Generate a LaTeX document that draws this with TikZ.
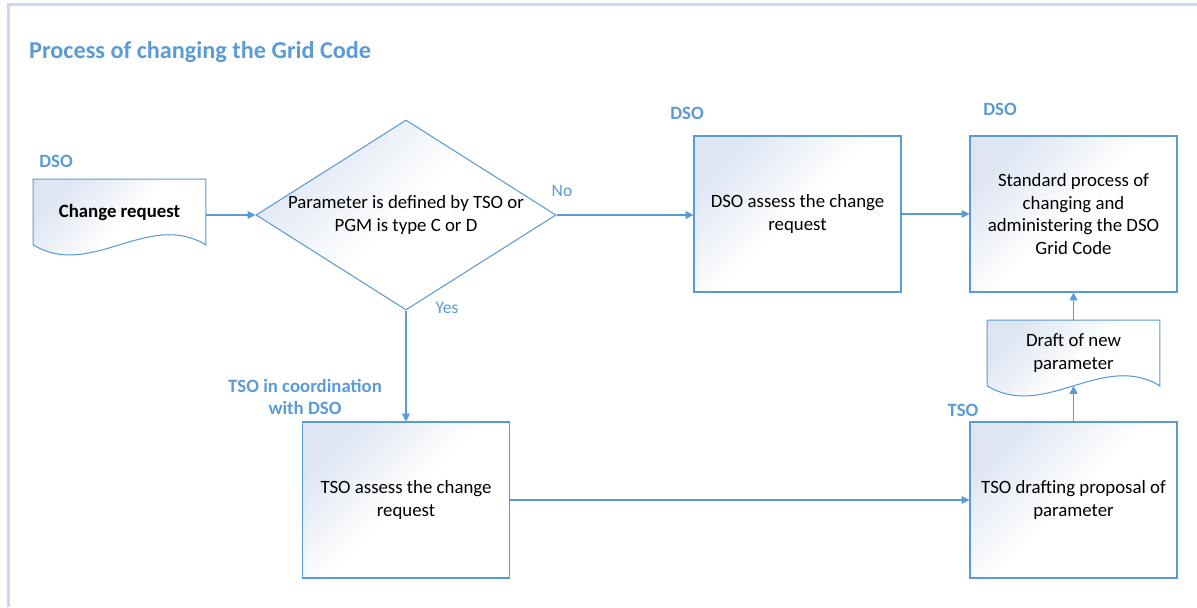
\documentclass[tikz,border=0pt]{standalone}
\usepackage{fontspec}
\setmainfont{Carlito}
\usetikzlibrary{shapes.geometric, arrows.meta, positioning, backgrounds}

\definecolor{gridblue}{RGB}{91,155,213}
\definecolor{framecol}{RGB}{198,217,240}
\definecolor{boxtint}{RGB}{222,230,243}

% contorno a "documento" (bordo inferiore ondulato) attorno a un nodo
\newcommand{\docoutline}[1]{%
    \begin{scope}[on background layer]
        \draw[draw=gridblue, line width=0.6pt, top color=boxtint, bottom color=white, middle color=white, shading angle=45]
            (#1.south west) -- (#1.north west) -- (#1.north east) -- (#1.south east)
            .. controls ([xshift=-1.15cm, yshift=0.7cm]#1.south east) and ([xshift=1.15cm, yshift=-0.7cm]#1.south west) .. (#1.south west)
            -- cycle;
    \end{scope}}

\begin{document}
\begin{tikzpicture}[
    txt/.style={font=\fontsize{10.7}{13}\selectfont, align=center},
    role/.style={font=\fontsize{10.7}{13}\selectfont\bfseries, text=gridblue, align=center},
    answer/.style={font=\fontsize{10}{12}\selectfont, text=gridblue},
    procbox/.style={txt, draw=gridblue, line width=0.6pt, top color=boxtint, bottom color=white, middle color=white, shading angle=45,
        minimum width=4.14cm, minimum height=3.12cm, inner sep=2pt},
    decision/.style={diamond, draw=gridblue, line width=0.6pt, top color=boxtint, bottom color=white, middle color=white, shading angle=45,
        minimum width=6cm, minimum height=3.8cm, inner sep=0pt},
    docbox/.style={txt, minimum width=3.44cm, minimum height=1.3cm, inner sep=0pt},
    flow/.style={draw=gridblue, line width=0.6pt, -{Triangle[length=4.5pt, width=4.5pt]}},
]
    \useasboundingbox (0,0) rectangle (23.94,12.14);

    % =========================================================
    % CORNICE E TITOLO
    % =========================================================
    \draw[framecol, line width=1.7pt] (0.17,0) -- (0.17,12.054) -- (23.94,12.054);
    \node[anchor=west, font=\fontsize{13.8}{16}\selectfont\bfseries, text=gridblue] (title) at (0.46,11.09) {Process of changing the Grid Code};

    % =========================================================
    % RICHIESTA E DECISIONE
    % =========================================================
    \node[role] (roledso) at (1.12,8.92) {DSO};
    \node[docbox] (request) at (2.39,7.9) {\textbf{Change request}};
    \docoutline{request}

    \node[decision] (check) at (8.12,7.84) {};
    \node[txt] (checktext) at (check) {Parameter is defined by TSO or\\PGM is type C or D};

    \node[answer] (no) at (11.24,8.32) {No};
    \node[answer] (yes) at (8.94,5.98) {Yes};

    % =========================================================
    % RAMO DSO (in alto)
    % =========================================================
    \node[role] (roledsoassess) at (13.74,9.88) {DSO};
    \node[procbox] (dsoassess) at (15.95,7.86) {DSO assess the change\\request};

    \node[role] (rolestandard) at (20.0,9.96) {DSO};
    \node[procbox] (standard) at (21.47,7.86) {Standard process of\\changing and\\administering the DSO\\Grid Code};

    \node[docbox] (draft) at (21.47,5.08) {Draft of new\\parameter};
    \docoutline{draft}

    % =========================================================
    % RAMO TSO (in basso)
    % =========================================================
    \node[role] (roletsoassess) at (6.1,4.2) {TSO in coordination\\with DSO};
    \node[procbox] (tsoassess) at (8.12,2.14) {TSO assess the change\\request};

    \node[role] (roletsodraft) at (19.26,3.94) {TSO};
    \node[procbox] (tsodraft) at (21.47,2.14) {TSO drafting proposal of\\parameter};

    % =========================================================
    % CONNETTORI
    % =========================================================
    \draw[flow] (request.east |- check.west) -- (check.west);
    \draw[flow] (check.east) -- (check.east -| dsoassess.west);
    \draw[flow] (dsoassess.east) -- (standard.west);
    \draw[flow] (check.south) -- (tsoassess.north);
    \draw[flow] (tsoassess.east) -- (tsodraft.west);
    \draw[flow] (tsodraft.north) -- (draft.south);
    \draw[flow] (draft.north) -- (standard.south);
\end{tikzpicture}
\end{document}
